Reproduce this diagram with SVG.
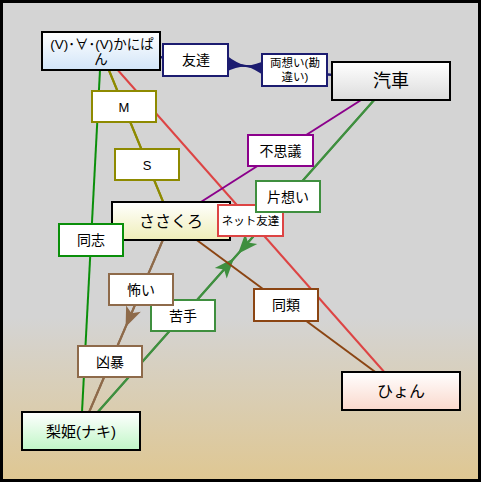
<svg xmlns="http://www.w3.org/2000/svg" width="481" height="482" viewBox="0 0 481 482">
<style>
text{font-family:"Liberation Sans","Noto Sans CJK JP",sans-serif;fill:#000;text-anchor:middle;dominant-baseline:central}
.node rect{stroke:#000;stroke-width:2}
.nt{font-size:16px}
.lbl rect{fill:#fff;stroke-width:2}
.lt{font-size:14px}
.e{fill:none;stroke-width:2}
</style>
<defs>
<linearGradient id="bg" x1="0" y1="0" x2="0" y2="1">
<stop offset="0" stop-color="#d4d4d4"/><stop offset="0.66" stop-color="#d4d4d4"/><stop offset="1" stop-color="#dfc792"/>
</linearGradient>
<linearGradient id="gBlue" x1="0" y1="0" x2="0" y2="1"><stop offset="0" stop-color="#ffffff"/><stop offset="1" stop-color="#d2e5f8"/></linearGradient>
<linearGradient id="gGray" x1="0" y1="0" x2="0" y2="1"><stop offset="0" stop-color="#ffffff"/><stop offset="1" stop-color="#dcdcdc"/></linearGradient>
<linearGradient id="gYel" x1="0" y1="0" x2="0" y2="1"><stop offset="0" stop-color="#ffffff"/><stop offset="1" stop-color="#efeeb8"/></linearGradient>
<linearGradient id="gGrn" x1="0" y1="0" x2="0" y2="1"><stop offset="0" stop-color="#ffffff"/><stop offset="1" stop-color="#c0f6c6"/></linearGradient>
<linearGradient id="gPink" x1="0" y1="0" x2="0" y2="1"><stop offset="0" stop-color="#ffffff"/><stop offset="1" stop-color="#fad8cc"/></linearGradient>
<marker id="mNavy" markerUnits="userSpaceOnUse" markerWidth="24" markerHeight="18" refX="21" refY="9" orient="auto" overflow="visible">
<path d="M0,0 Q11,7 22,9 Q11,11 0,18 Z" fill="#1c1c70"/>
</marker>
<marker id="mGreen" markerUnits="userSpaceOnUse" markerWidth="24" markerHeight="16" refX="23" refY="8" orient="auto" overflow="visible">
<path d="M0,0 L20,8 L0,16 L5,8 Z" fill="#3f8f3f"/>
</marker>
<marker id="mBrown" markerUnits="userSpaceOnUse" markerWidth="22" markerHeight="16" refX="19" refY="8" orient="auto" overflow="visible">
<path d="M0,0 L20,8 L0,16 L5,8 Z" fill="#8e6a4a"/>
</marker>
</defs>
<rect id="frame" x="1.5" y="1.5" width="478" height="479" fill="url(#bg)" stroke="#000" stroke-width="3"/>
<g id="connectors">
<path class="e" d="M101,51 L246,66 L391,81" stroke="#1c1c70" marker-mid="url(#mNavy)"/>
<path class="e" d="M391,81 L246,66 L101,51" stroke="#1c1c70" marker-mid="url(#mNavy)"/>
<path class="e" d="M101,51 L171,221" stroke="#8e8a00"/>
<path class="e" d="M101,51 L171,221" stroke="#8e8a00"/>
<path class="e" d="M101,51 L401,391" stroke="#dd4444"/>
<path class="e" d="M391,81 L171,221" stroke="#8b008b"/>
<path class="e" d="M391,81 L236,256 L81,431" stroke="#3f8f3f" marker-mid="url(#mGreen)"/>
<path class="e" d="M81,431 L236,256 L391,81" stroke="#3f8f3f" marker-mid="url(#mGreen)"/>
<path class="e" d="M101,51 L81,431" stroke="#0a8f0a"/>
<path class="e" d="M171,221 L401,391" stroke="#8b4513"/>
<path class="e" d="M171,221 L126,326 L81,431" stroke="#8e6a4a" marker-mid="url(#mBrown)"/>
<path class="e" d="M171,221 L81,431" stroke="#8e6a4a"/>
</g>
<g id="node-kanipan" class="node">
<rect x="42" y="32" width="118" height="38" fill="url(#gBlue)"/>
<text x="102" y="44" style="font-size:13.5px">(V)･∀･(V)かにぱ</text>
<text x="101" y="59" style="font-size:13.5px">ん</text>
</g>
<g id="node-kisha" class="node">
<rect x="332" y="62" width="118" height="38" fill="url(#gGray)"/>
<text x="391" y="81" style="font-size:18px">汽車</text>
</g>
<g id="node-sasakuro" class="node">
<rect x="112" y="202" width="118" height="38" fill="url(#gYel)"/>
<text class="nt" x="171" y="221">ささくろ</text>
</g>
<g id="node-naki" class="node">
<rect x="22" y="412" width="118" height="38" fill="url(#gGrn)"/>
<text x="81" y="431" style="font-size:15px">梨姫(ナキ)</text>
</g>
<g id="node-hyon" class="node">
<rect x="342" y="372" width="118" height="38" fill="url(#gPink)"/>
<text class="nt" x="401" y="391">ひょん</text>
</g>
<g id="labels">
<g id="lbl-tomodachi" class="lbl"><rect x="163" y="44" width="65" height="32" stroke="#1c1c70"/><text class="lt" x="196" y="60">友達</text></g>
<g id="lbl-ryouomoi" class="lbl"><rect x="262" y="54" width="65" height="32" stroke="#1c1c70"/><text x="295" y="63" style="font-size:11.5px">両想い(勘</text><text x="295" y="77" style="font-size:11.5px">違い)</text></g>
<g id="lbl-m" class="lbl"><rect x="92" y="91" width="64" height="31" stroke="#8e8a00"/><text x="124" y="107" style="font-size:13px">M</text></g>
<g id="lbl-s" class="lbl"><rect x="115" y="149" width="64" height="31" stroke="#8e8a00"/><text x="147" y="165" style="font-size:13px">S</text></g>
<g id="lbl-fushigi" class="lbl"><rect x="248" y="135" width="65" height="31" stroke="#8b008b"/><text class="lt" x="280.5" y="151">不思議</text></g>
<g id="lbl-net" class="lbl"><rect x="218" y="205" width="65" height="31" stroke="#dd4444"/><text x="250.5" y="221" style="font-size:11.5px">ネット友達</text></g>
<g id="lbl-kataomoi" class="lbl"><rect x="256" y="181" width="64" height="31" stroke="#3f8f3f"/><text class="lt" x="288" y="197">片想い</text></g>
<g id="lbl-doushi" class="lbl"><rect x="59" y="224" width="64" height="32" stroke="#0a8f0a"/><text class="lt" x="91" y="240">同志</text></g>
<g id="lbl-nigate" class="lbl"><rect x="151" y="300" width="64" height="31" stroke="#3f8f3f"/><text class="lt" x="183" y="316">苦手</text></g>
<g id="lbl-kowai" class="lbl"><rect x="109" y="274" width="64" height="31" stroke="#8e6a4a"/><text class="lt" x="141" y="290">怖い</text></g>
<g id="lbl-dourui" class="lbl"><rect x="254" y="289" width="64" height="32" stroke="#8b4513"/><text class="lt" x="286" y="305">同類</text></g>
<g id="lbl-kyoubou" class="lbl"><rect x="78" y="346" width="64" height="31" stroke="#8e6a4a"/><text class="lt" x="110" y="362">凶暴</text></g>
</g>
</svg>
